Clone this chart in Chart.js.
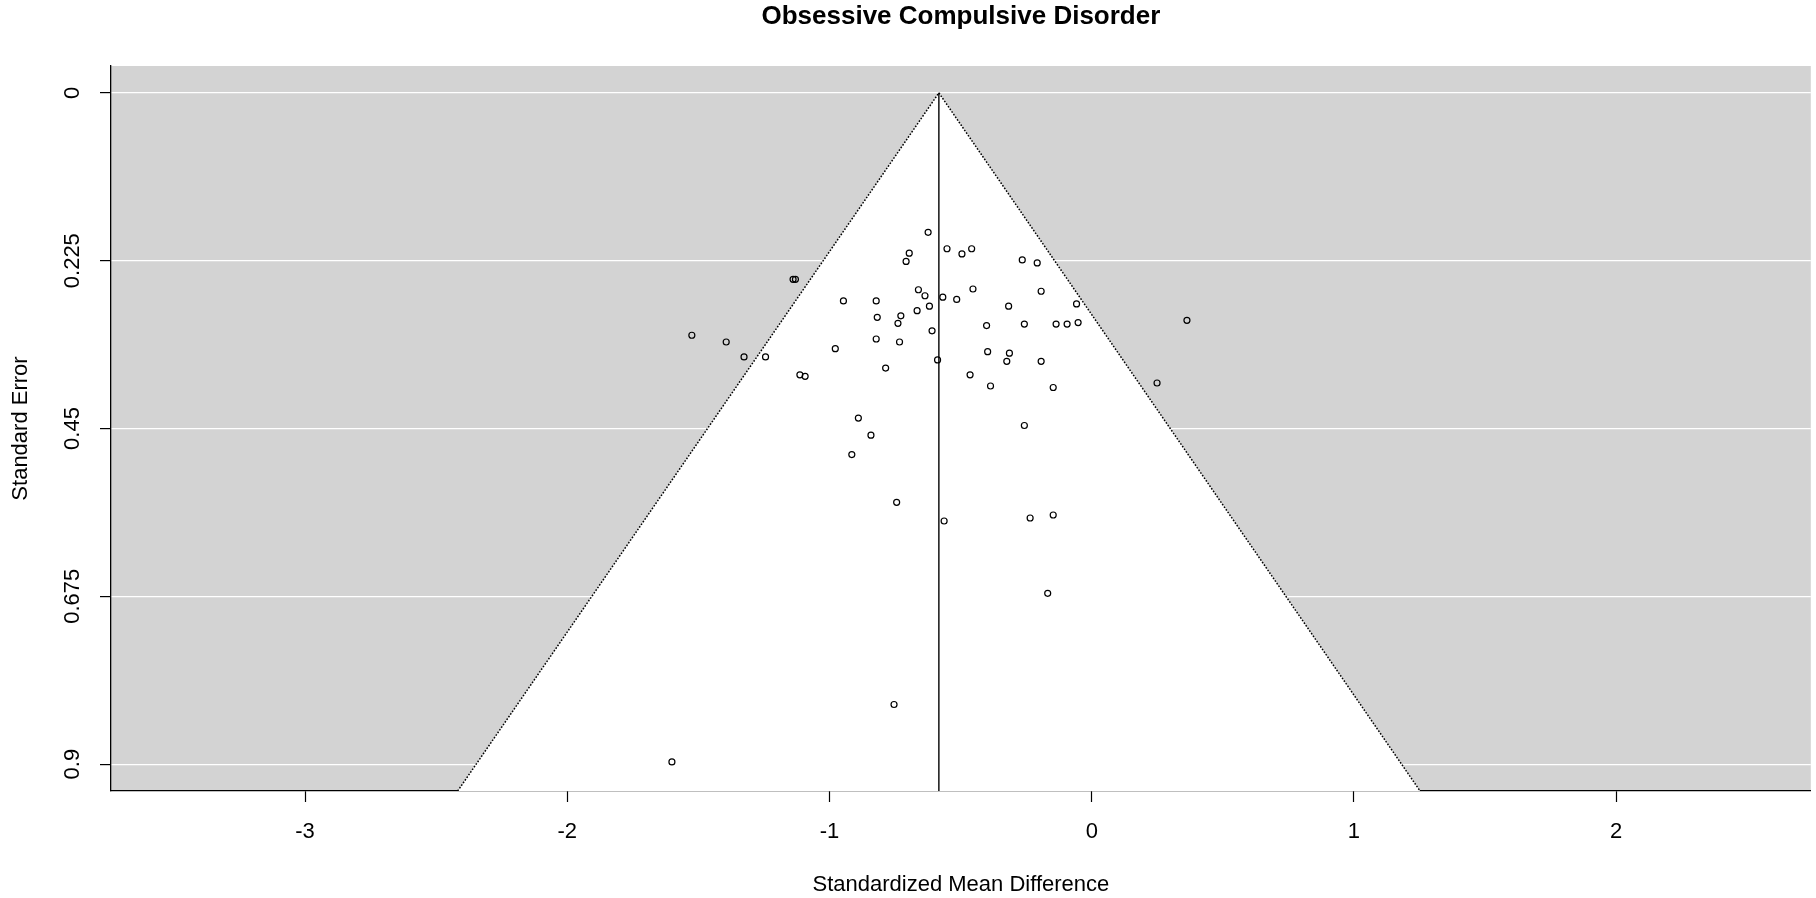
<!DOCTYPE html>
<html>
<head>
<meta charset="utf-8">
<title>Obsessive Compulsive Disorder</title>
<script src="https://cdn.jsdelivr.net/npm/chart.js@4.4.1/dist/chart.umd.min.js"></script>
<style>
  html, body { margin: 0; padding: 0; background: #fff; }
  #wrap { width: 1816px; height: 898px; }
</style>
</head>
<body>
<div id="wrap"><canvas id="funnel"></canvas></div>
<script>
// study effects (standardized mean difference, standard error)
const smd = [
  -0.624, -0.696, -0.708, -0.552, -0.495, -0.458, -0.265, -0.208,
  -1.139, -1.130, -0.947, -0.822, -0.661, -0.636, -0.568, -0.515,
  -0.453, -0.193, -0.058, -0.619, -0.666, -0.317, -0.818, -0.728,
  -0.739, -0.401, -0.257, -0.136, -0.094, -0.052, -1.525, -1.394,
  -1.326, -1.244, -0.978, -0.822, -0.733, -0.609, -0.588, -0.397,
  -0.314, -0.324, -0.193, -1.113, -1.093, -0.786, -0.464, -0.386,
  -0.147, -0.890, -0.842, -0.257, -0.915, -0.744, -0.563, -0.235,
  -0.147, -0.168, -0.754, -1.601, 0.363, 0.249
];
const se = [
  0.187, 0.215, 0.226, 0.209, 0.216, 0.209, 0.224, 0.228,
  0.250, 0.250, 0.279, 0.279, 0.264, 0.272, 0.274, 0.277,
  0.263, 0.266, 0.283, 0.286, 0.292, 0.286, 0.301, 0.299,
  0.309, 0.312, 0.310, 0.310, 0.310, 0.308, 0.325, 0.334,
  0.354, 0.354, 0.343, 0.330, 0.334, 0.319, 0.358, 0.347,
  0.349, 0.360, 0.360, 0.378, 0.380, 0.369, 0.378, 0.393,
  0.395, 0.436, 0.459, 0.446, 0.485, 0.549, 0.574, 0.570,
  0.566, 0.671, 0.820, 0.897, 0.305, 0.389
];

// pooled estimate and funnel outline (bottom-left, apex, bottom-right)
const pooled = -0.583;
const funnelX = [-2.418, -0.583, 1.252];
const funnelSE = [0.936, 0, 0.936];

const xTicks = [-3, -2, -1, 0, 1, 2];
const yTicks = [0, 0.225, 0.45, 0.675, 0.9];
const yTickLabels = ['0', '0.225', '0.45', '0.675', '0.9'];

const FONT = "'Liberation Sans', Arial, Helvetica, sans-serif";

const grayBack = {
  id: 'grayBack',
  beforeDraw(chart) {
    const { ctx, chartArea: a } = chart;
    ctx.save();
    ctx.fillStyle = '#d3d3d3';
    ctx.fillRect(a.left, a.top, a.right - a.left, a.bottom - a.top);
    ctx.restore();
  }
};

const ctx = document.getElementById('funnel').getContext('2d');
new Chart(ctx, {
  type: 'scatter',
  data: {
    datasets: [
      {
        label: 'studies',
        data: smd.map((v, i) => ({ x: v, y: se[i] })),
        pointStyle: 'circle',
        pointRadius: 3,
        pointBorderWidth: 1.2,
        borderColor: '#000',
        backgroundColor: 'rgba(0,0,0,0)',
        order: 1
      },
      {
        label: 'pooled',
        data: [{ x: pooled, y: 0 }, { x: pooled, y: funnelSE[0] }],
        showLine: true,
        borderColor: '#000',
        borderWidth: 1.4,
        pointRadius: 0,
        order: 2
      },
      {
        label: 'funnel',
        data: funnelX.map((v, i) => ({ x: v, y: funnelSE[i] })),
        showLine: true,
        borderColor: '#000',
        borderWidth: 1.5,
        borderDash: [1.6, 1.6],
        backgroundColor: '#ffffff',
        fill: { value: funnelSE[0] },
        pointRadius: 0,
        tension: 0,
        order: 3
      }
    ]
  },
  options: {
    responsive: true,
    maintainAspectRatio: false,
    animation: false,
    layout: { padding: 0 },
    plugins: {
      legend: { display: false },
      tooltip: { enabled: false },
      title: {
        display: true,
        fullSize: false,
        text: 'Obsessive Compulsive Disorder',
        color: '#000',
        font: { family: FONT, size: 26, weight: 'bold' },
        padding: { top: 1.4, bottom: 33.4 }
      }
    },
    scales: {
      x: {
        type: 'linear',
        position: 'bottom',
        min: -3.74,
        max: 2.742,
        afterBuildTicks: s => { s.ticks = xTicks.map(v => ({ value: v })); },
        afterFit: s => { s.height = 107; },
        border: { display: true, color: '#000', width: 1.3 },
        grid: { drawOnChartArea: false, drawTicks: true, tickLength: 11, tickColor: '#000', tickWidth: 1.2 },
        ticks: { color: '#000', padding: 16.3, font: { family: FONT, size: 22 } },
        title: {
          display: true,
          text: 'Standardized Mean Difference',
          color: '#000',
          font: { family: FONT, size: 22 },
          padding: { top: 0, bottom: 0 }
        }
      },
      y: {
        type: 'linear',
        position: 'left',
        reverse: true,
        min: -0.036,
        max: 0.936,
        afterBuildTicks: s => { s.ticks = yTicks.map(v => ({ value: v })); },
        afterFit: s => { s.width = 111; },
        border: { display: true, color: '#000', width: 1.3 },
        grid: { color: '#ffffff', lineWidth: 1.2, drawTicks: true, tickLength: 11, tickColor: '#000', tickWidth: 1.2 },
        ticks: {
          color: '#000',
          padding: 0,
          minRotation: 90,
          maxRotation: 90,
          crossAlign: 'center',
          font: { family: FONT, size: 22 },
          callback: (v, i) => yTickLabels[i]
        },
        title: {
          display: true,
          text: 'Standard Error',
          color: '#000',
          font: { family: FONT, size: 22 },
          padding: { top: 7.8, bottom: 0 }
        }
      }
    }
  },
  plugins: [grayBack]
});
</script>
</body>
</html>
